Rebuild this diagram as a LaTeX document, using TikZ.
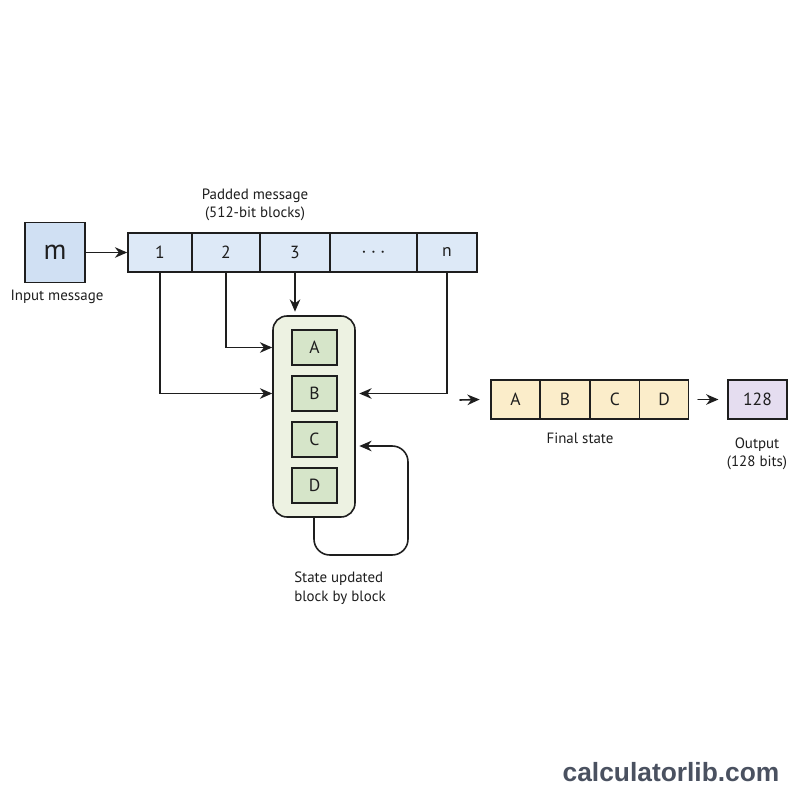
\documentclass[tikz,border=0pt]{standalone}
\usepackage{fontspec}
\setmainfont{PT Sans}
\newfontfamily\markfont{Liberation Sans}
\usetikzlibrary{arrows.meta,calc}
\definecolor{inkline}{RGB}{30,30,30}
\definecolor{msgblue}{RGB}{208,224,243}
\definecolor{blockblue}{RGB}{221,233,247}
\definecolor{statebg}{RGB}{237,242,226}
\definecolor{stategreen}{RGB}{214,229,201}
\definecolor{finalyellow}{RGB}{251,237,202}
\definecolor{outlilac}{RGB}{229,221,240}
\definecolor{markgray}{RGB}{74,81,96}
\tikzset{
  cell/.style={draw=inkline,line width=0.9pt,minimum height=39*0.02cm,inner sep=0pt,font=\fontsize{10}{12}\selectfont,text=inkline},
  feed/.style={-{Stealth[length=7pt,width=6pt]},line width=0.9pt,draw=inkline},
  caption/.style={font=\fontsize{8.5}{10.5}\selectfont,align=center,text=inkline,inner sep=0pt}
}

\begin{document}
\begin{tikzpicture}[x=0.02cm,y=-0.02cm,line cap=round]
  \useasboundingbox[fill=white] (0,0) rectangle (800,800);
  % the message and its 512-bit blocks
  \node[cell,fill=msgblue,minimum width=60*0.02cm,minimum height=60*0.02cm,font=\fontsize{16}{18}\selectfont] (m) at (55,252.5) {m};
  \node[caption] (mlab) at (57,297) {Input message};
  \foreach \name/\cx/\w/\lab in {c1/160/64/1,c2/226/68/2,c3/295/70/3,cdots/373.5/87/{\large$\cdots$},cn/447/60/n}{
    \node[cell,fill=blockblue,minimum width=\w*0.02cm] (\name) at (\cx,252.5) {\lab};
  }
  \node[caption] (padlab) at (255,205) {Padded message\\(512-bit blocks)};
  \draw[feed] (m) -- (c1);
  % the state A, B, C, D
  \node[draw=inkline,line width=0.9pt,fill=statebg,rounded corners=8pt,minimum width=82*0.02cm,minimum height=201*0.02cm] (state) at (314,416.5) {};
  \foreach \r/\cy in {A/347.5,B/393.5,C/439.5,D/485.5}{
    \node[cell,fill=stategreen,minimum width=45*0.02cm,minimum height=35*0.02cm] (s\r) at (314.5,\cy) {\r};
  }
  \draw[feed] (c3) -- ([yshift=2pt]c3 |- state.north);
  \draw[feed] (c2) |- (state.west |- sA);
  \draw[feed] (c1) |- (state.west |- sB);
  \draw[feed] (cn) |- ([xshift=2pt]state.east |- sB);
  \coordinate (turn) at (408,555);
  \draw[feed,rounded corners=9pt] (state.south) |- (turn) |- ([xshift=2pt]state.east |- 0,446);
  \node[caption,align=left] (looplab) at (340,588) {State updated\\block by block};
  % final state and the digest
  \coordinate (finin) at (460,400);
  \foreach \name/\cx/\lab in {fA/515.5/A,fB/565/B,fC/615/C,fD/664/D}{
    \node[cell,fill=finalyellow,minimum width=49*0.02cm] (\name) at (\cx,399.5) {\lab};
  }
  \node[caption] (finlab) at (580,438) {Final state};
  \draw[feed] (finin) -- ([xshift=-6pt]fA.west);
  \node[cell,fill=outlilac,minimum width=59*0.02cm] (out) at (757.5,399.5) {128};
  \node[caption] (outlab) at (757,454) {Output\\(128 bits)};
  \draw[feed,shorten <=5pt,shorten >=5pt] (fD) -- (out);
  \node[font=\markfont\bfseries\fontsize{15}{18}\selectfont,text=markgray] (mark) at (671,772) {calculatorlib.com};
\end{tikzpicture}
\end{document}
